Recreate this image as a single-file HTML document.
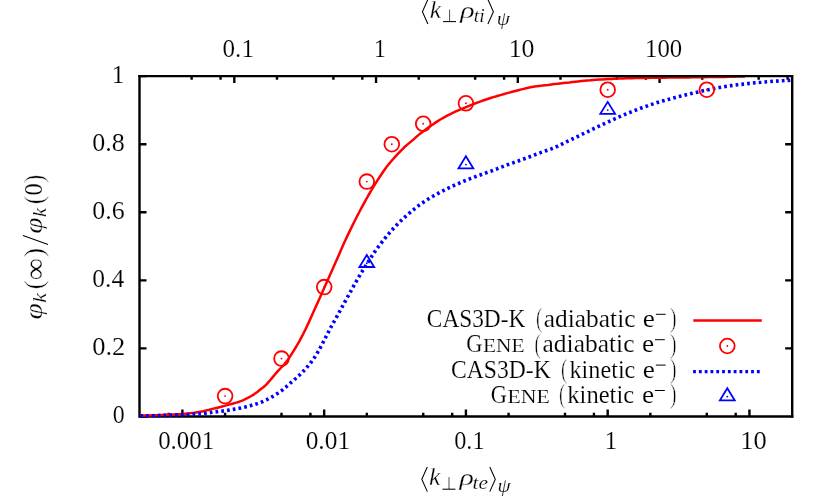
<!DOCTYPE html>
<html><head><meta charset="utf-8"><title>plot</title>
<style>html,body{margin:0;padding:0;background:#fff}svg{display:block;will-change:transform}text{font-family:"Liberation Serif",serif;fill:#000;stroke:#fff;stroke-width:0.16px;paint-order:fill stroke}</style>
</head><body>
<svg width="830" height="498" viewBox="0 0 830 498">
<rect width="830" height="498" fill="#fff"/>
<g stroke="#000" stroke-width="2.4" fill="none">
<path d="M168.66 416.50v-3.70M182.40 416.50v-7.00M225.07 416.50v-3.70M281.49 416.50v-3.70M310.42 416.50v-3.70M324.16 416.50v-7.00M366.83 416.50v-3.70M423.25 416.50v-3.70M452.18 416.50v-3.70M465.92 416.50v-7.00M508.59 416.50v-3.70M565.01 416.50v-3.70M593.94 416.50v-3.70M607.68 416.50v-7.00M650.35 416.50v-3.70M706.77 416.50v-3.70M735.70 416.50v-3.70M749.44 416.50v-7.00M139.50 416.50h7.00M139.50 348.42h7.00M139.50 280.34h7.00M139.50 212.26h7.00M139.50 144.18h7.00M139.50 76.10h7.00"/>
<path d="M191.63 76.10v3.70M220.56 76.10v3.70M234.30 76.10v7.00M276.97 76.10v3.70M333.39 76.10v3.70M362.32 76.10v3.70M376.06 76.10v7.00M418.73 76.10v3.70M475.15 76.10v3.70M504.08 76.10v3.70M517.82 76.10v7.00M560.49 76.10v3.70M616.91 76.10v3.70M645.84 76.10v3.70M659.58 76.10v7.00M702.25 76.10v3.70M758.67 76.10v3.70M787.60 76.10v3.70M792.20 348.42h-7.00M792.20 280.34h-7.00M792.20 212.26h-7.00M792.20 144.18h-7.00"/>
<path d="M139.5 74.90V416.5H793.40"/>
</g>
<path d="M140.3 415.7L143.3 415.6L146.3 415.5L149.3 415.4L152.3 415.3L155.3 415.2L158.3 415.1L161.3 414.9L164.3 414.8L167.3 414.7L170.3 414.6L173.3 414.5L176.3 414.3L179.3 414.2L182.3 414.0L185.3 413.7L188.3 413.4L191.3 413.1L194.3 412.7L197.3 412.2L200.3 411.7L203.3 411.2L206.3 410.4L209.3 409.7L212.3 408.9L215.3 408.2L218.3 407.5L221.3 406.7L224.3 405.9L227.3 405.1L230.3 404.3L233.3 403.5L236.3 402.6L239.3 401.7L242.3 400.6L245.3 399.2L248.3 397.7L251.3 396.0L254.3 394.1L257.3 392.0L260.3 389.6L263.3 387.2L266.3 384.6L269.3 381.2L272.3 377.6L275.3 374.0L278.3 370.6L281.3 367.5L284.3 364.3L287.3 360.6L290.3 356.1L293.3 351.4L296.3 346.5L299.3 341.3L302.3 335.7L305.3 329.7L308.3 323.4L311.3 316.8L314.3 310.1L317.3 303.4L320.3 296.8L323.3 290.1L326.3 283.3L329.3 276.5L332.3 269.7L335.3 263.0L338.3 256.3L341.3 249.3L344.3 242.5L347.3 236.1L350.3 229.9L353.3 223.8L356.3 217.8L359.3 212.0L362.3 206.3L365.3 200.9L368.3 195.5L371.3 190.4L374.3 185.4L377.3 180.6L380.3 176.0L383.3 171.5L386.3 167.3L389.3 163.5L392.3 160.0L395.3 156.6L398.3 153.4L401.3 150.3L404.3 147.3L407.3 144.6L410.3 142.1L413.3 139.6L416.3 136.9L419.3 134.4L422.3 132.0L425.3 129.8L428.3 127.6L431.3 125.5L434.3 123.4L437.3 121.4L440.3 119.5L443.3 117.8L446.3 116.2L449.3 114.6L452.3 113.1L455.3 111.7L458.3 110.3L461.3 109.1L464.3 107.8L467.3 106.6L470.3 105.4L473.3 104.2L476.3 103.0L479.3 101.9L482.3 100.8L485.3 99.8L488.3 98.8L491.3 97.8L494.3 96.9L497.3 96.0L500.3 95.1L503.3 94.3L506.3 93.4L509.3 92.6L512.3 91.8L515.3 91.0L518.3 90.2L521.3 89.4L524.3 88.7L527.3 87.9L530.3 87.3L533.3 86.7L536.3 86.3L539.3 85.9L542.3 85.6L545.3 85.2L548.3 84.9L551.3 84.5L554.3 84.1L557.3 83.8L560.3 83.4L563.3 83.0L566.3 82.7L569.3 82.4L572.3 82.0L575.3 81.7L578.3 81.4L581.3 81.1L584.3 80.8L587.3 80.5L590.3 80.3L593.3 80.0L596.3 79.8L599.3 79.6L602.3 79.4L605.3 79.2L608.3 79.0L611.3 78.9L614.3 78.7L617.3 78.6L620.3 78.5L623.3 78.4L626.3 78.3L629.3 78.2L632.3 78.2L635.3 78.1L638.3 78.0L641.3 78.0L644.3 77.9L647.3 77.9L650.3 77.8L653.3 77.8L656.3 77.8L659.3 77.7L662.3 77.7L665.3 77.7L668.3 77.6L671.3 77.6L674.3 77.6L677.3 77.5L680.3 77.5L683.3 77.5L686.3 77.4L689.3 77.4L692.3 77.3L695.3 77.3L698.3 77.3L701.3 77.2L704.3 77.2L707.3 77.1L710.3 77.1L713.3 77.0L716.3 77.0L719.3 77.0L722.3 76.9L725.3 76.9L728.3 76.8L731.3 76.8L734.3 76.7L737.3 76.6L740.3 76.6L743.3 76.5L745.0 76.5" fill="none" stroke="#f00" stroke-width="2.5" stroke-linejoin="round"/>
<path d="M140.3 415.9L143.3 415.9L146.3 415.8L149.3 415.7L152.3 415.7L155.3 415.6L158.3 415.5L161.3 415.5L164.3 415.4L167.3 415.3L170.3 415.2L173.3 415.1L176.3 415.0L179.3 414.9L182.3 414.8L185.3 414.6L188.3 414.5L191.3 414.3L194.3 414.1L197.3 413.9L200.3 413.7L203.3 413.4L206.3 413.1L209.3 412.7L212.3 412.3L215.3 411.9L218.3 411.5L221.3 411.2L224.3 410.8L227.3 410.4L230.3 409.9L233.3 409.4L236.3 408.9L239.3 408.3L242.3 407.7L245.3 407.0L248.3 406.2L251.3 405.4L254.3 404.6L257.3 403.6L260.3 402.6L263.3 401.3L266.3 399.9L269.3 398.3L272.3 396.7L275.3 394.9L278.3 392.9L281.3 390.8L284.3 388.4L287.3 385.8L290.3 383.1L293.3 380.6L296.3 378.0L299.3 375.2L302.3 372.3L305.3 369.2L308.3 365.7L311.3 362.0L314.3 357.8L317.3 353.0L320.3 347.6L323.3 341.9L326.3 336.2L329.3 330.3L332.3 324.7L335.3 319.3L338.3 314.0L341.3 308.4L344.3 302.9L347.3 297.5L350.3 292.1L353.3 286.7L356.3 281.3L359.3 276.1L362.3 271.1L365.3 266.4L368.3 261.8L371.3 256.9L374.3 252.4L377.3 248.2L380.3 244.2L383.3 240.3L386.3 236.6L389.3 233.1L392.3 229.7L395.3 226.3L398.3 223.3L401.3 220.4L404.3 217.6L407.3 214.9L410.3 212.3L413.3 209.8L416.3 207.4L419.3 205.1L422.3 203.0L425.3 200.9L428.3 199.0L431.3 197.2L434.3 195.5L437.3 193.8L440.3 192.2L443.3 190.7L446.3 189.2L449.3 187.7L452.3 186.3L455.3 184.9L458.3 183.6L461.3 182.3L464.3 181.0L467.3 179.8L470.3 178.6L473.3 177.5L476.3 176.4L479.3 175.3L482.3 174.2L485.3 173.1L488.3 172.0L491.3 171.0L494.3 169.8L497.3 168.7L500.3 167.5L503.3 166.4L506.3 165.2L509.3 164.1L512.3 163.1L515.3 162.0L518.3 161.0L521.3 159.9L524.3 158.8L527.3 157.7L530.3 156.5L533.3 155.3L536.3 154.2L539.3 153.1L542.3 152.0L545.3 151.0L548.3 150.0L551.3 148.9L554.3 147.6L557.3 146.3L560.3 144.8L563.3 143.4L566.3 141.9L569.3 140.5L572.3 139.0L575.3 137.6L578.3 136.2L581.3 134.7L584.3 133.2L587.3 131.8L590.3 130.4L593.3 128.9L596.3 127.5L599.3 126.0L602.3 124.6L605.3 123.2L608.3 121.8L611.3 120.4L614.3 119.1L617.3 117.7L620.3 116.4L623.3 115.2L626.3 113.9L629.3 112.7L632.3 111.5L635.3 110.3L638.3 109.2L641.3 108.0L644.3 106.9L647.3 105.9L650.3 104.8L653.3 103.9L656.3 102.9L659.3 102.0L662.3 101.1L665.3 100.3L668.3 99.4L671.3 98.6L674.3 97.8L677.3 97.0L680.3 96.2L683.3 95.5L686.3 94.7L689.3 94.0L692.3 93.3L695.3 92.6L698.3 91.9L701.3 91.2L704.3 90.5L707.3 89.9L710.3 89.3L713.3 88.7L716.3 88.1L719.3 87.5L722.3 87.0L725.3 86.5L728.3 86.1L731.3 85.6L734.3 85.2L737.3 84.8L740.3 84.5L743.3 84.1L746.3 83.8L749.3 83.4L752.3 83.1L755.3 82.8L758.3 82.5L761.3 82.3L764.3 82.0L767.3 81.8L770.3 81.5L773.3 81.3L776.3 81.1L779.3 80.9L782.3 80.7L785.3 80.5L788.3 80.4L791.3 80.2L791.5 80.2" fill="none" stroke="#00f" stroke-width="3.6" stroke-dasharray="2.7 3.1" stroke-linejoin="round"/>
<path d="M138.30 76.1H792.2V417.70" fill="none" stroke="#000" stroke-width="2.4"/>
<circle cx="225.1" cy="396.1" r="7.35" fill="none" stroke="#f00" stroke-width="1.8"/><circle cx="225.1" cy="396.1" r="0.95" fill="#f00"/>
<circle cx="281.5" cy="358.6" r="7.35" fill="none" stroke="#f00" stroke-width="1.8"/><circle cx="281.5" cy="358.6" r="0.95" fill="#f00"/>
<circle cx="324.2" cy="287.1" r="7.35" fill="none" stroke="#f00" stroke-width="1.8"/><circle cx="324.2" cy="287.1" r="0.95" fill="#f00"/>
<circle cx="366.8" cy="181.6" r="7.35" fill="none" stroke="#f00" stroke-width="1.8"/><circle cx="366.8" cy="181.6" r="0.95" fill="#f00"/>
<circle cx="391.8" cy="144.2" r="7.35" fill="none" stroke="#f00" stroke-width="1.8"/><circle cx="391.8" cy="144.2" r="0.95" fill="#f00"/>
<circle cx="423.2" cy="123.8" r="7.35" fill="none" stroke="#f00" stroke-width="1.8"/><circle cx="423.2" cy="123.8" r="0.95" fill="#f00"/>
<circle cx="465.9" cy="103.3" r="7.35" fill="none" stroke="#f00" stroke-width="1.8"/><circle cx="465.9" cy="103.3" r="0.95" fill="#f00"/>
<circle cx="607.7" cy="89.7" r="7.35" fill="none" stroke="#f00" stroke-width="1.8"/><circle cx="607.7" cy="89.7" r="0.95" fill="#f00"/>
<circle cx="706.8" cy="89.7" r="7.35" fill="none" stroke="#f00" stroke-width="1.8"/><circle cx="706.8" cy="89.7" r="0.95" fill="#f00"/>
<path d="M366.8 255.03l-7.4 11.99h14.8z" fill="none" stroke="#00f" stroke-width="1.8" stroke-linejoin="miter"/><circle cx="366.8" cy="263.3" r="0.95" fill="#00f"/>
<path d="M465.9 156.32l-7.4 11.99h14.8z" fill="none" stroke="#00f" stroke-width="1.8" stroke-linejoin="miter"/><circle cx="465.9" cy="164.6" r="0.95" fill="#00f"/>
<path d="M607.7 101.85l-7.4 11.99h14.8z" fill="none" stroke="#00f" stroke-width="1.8" stroke-linejoin="miter"/><circle cx="607.7" cy="110.1" r="0.95" fill="#00f"/>
<path d="M693.3 320.5H761.8" stroke="#f00" stroke-width="2.7" fill="none"/>
<circle cx="727.3" cy="346.0" r="7.35" fill="none" stroke="#f00" stroke-width="1.8"/><circle cx="727.3" cy="346.0" r="0.95" fill="#f00"/>
<path d="M693.1 371.6H760" stroke="#00f" stroke-width="3.4" stroke-dasharray="2.8 3.0" fill="none"/>
<path d="M727.3 388.31l-7.4 11.99h14.8z" fill="none" stroke="#00f" stroke-width="1.8" stroke-linejoin="miter"/><circle cx="727.3" cy="396.6" r="0.95" fill="#00f"/>
<text transform="translate(158.19 448.60) scale(0.983 1)" font-size="25.3">0.001</text>
<text transform="translate(305.67 448.60) scale(1.003 1)" font-size="25.3">0.01</text>
<text transform="translate(454.21 448.60) scale(0.961 1)" font-size="25.3">0.1</text>
<text transform="translate(604.82 448.60) scale(0.974 1)" font-size="25.3">1</text>
<text transform="translate(740.15 448.60) scale(1.048 1)" font-size="25.3">10</text>
<text transform="translate(222.58 57.20) scale(0.992 1)" font-size="25.3">0.1</text>
<text transform="translate(374.12 57.20) scale(0.929 1)" font-size="25.3">1</text>
<text transform="translate(508.71 57.20) scale(1.021 1)" font-size="25.3">10</text>
<text transform="translate(645.00 57.20) scale(0.980 1)" font-size="25.3">100</text>
<text transform="translate(112.73 423.00) scale(0.944 1)" font-size="25.3">0</text>
<text transform="translate(92.24 354.92) scale(1.046 1)" font-size="25.3">0.2</text>
<text transform="translate(92.27 286.84) scale(1.010 1)" font-size="25.3">0.4</text>
<text transform="translate(92.26 218.76) scale(1.023 1)" font-size="25.3">0.6</text>
<text transform="translate(92.25 150.68) scale(1.028 1)" font-size="25.3">0.8</text>
<text transform="translate(111.67 82.60) scale(0.997 1)" font-size="25.3">1</text>
<text transform="translate(426.83 326.70) scale(0.941 1)" font-size="24.8">CAS3D-K</text>
<text transform="translate(535.92 327.10) scale(0.710 1)" font-size="26.5" style="stroke-width:0.55px">(</text>
<text transform="translate(543.77 326.70) scale(1.025 1)" font-size="24.8">adiabatic</text>
<text transform="translate(642.86 326.70) scale(1.101 1)" font-size="24.8">e</text>
<path d="M655.9 314.3h9.8" stroke="#000" stroke-width="1.0" fill="none"/>
<text transform="translate(670.09 327.10) scale(0.739 1)" font-size="26.5" style="stroke-width:0.55px">)</text>
<text transform="translate(466.27 352.10) scale(0.904 1)" font-size="24.8">G</text>
<text transform="translate(482.93 352.10) scale(1.173 1)" font-size="18.2">ENE</text>
<text transform="translate(534.42 352.50) scale(0.710 1)" font-size="26.5" style="stroke-width:0.55px">(</text>
<text transform="translate(542.57 352.10) scale(1.028 1)" font-size="24.8">adiabatic</text>
<text transform="translate(641.96 352.10) scale(1.101 1)" font-size="24.8">e</text>
<path d="M655.0 339.7h9.8" stroke="#000" stroke-width="1.0" fill="none"/>
<text transform="translate(670.09 352.50) scale(0.739 1)" font-size="26.5" style="stroke-width:0.55px">)</text>
<text transform="translate(451.12 377.50) scale(0.951 1)" font-size="24.8">CAS3D-K</text>
<text transform="translate(561.02 377.90) scale(0.710 1)" font-size="26.5" style="stroke-width:0.55px">(</text>
<text transform="translate(569.50 377.50) scale(0.976 1)" font-size="24.8">kinetic</text>
<text transform="translate(642.86 377.50) scale(1.101 1)" font-size="24.8">e</text>
<path d="M655.9 365.1h9.8" stroke="#000" stroke-width="1.0" fill="none"/>
<text transform="translate(670.09 377.90) scale(0.739 1)" font-size="26.5" style="stroke-width:0.55px">)</text>
<text transform="translate(490.87 402.90) scale(0.904 1)" font-size="24.8">G</text>
<text transform="translate(507.52 402.90) scale(1.193 1)" font-size="18.2">ENE</text>
<text transform="translate(558.92 403.30) scale(0.710 1)" font-size="26.5" style="stroke-width:0.55px">(</text>
<text transform="translate(567.29 402.90) scale(0.992 1)" font-size="24.8">kinetic</text>
<text transform="translate(641.96 402.90) scale(1.101 1)" font-size="24.8">e</text>
<path d="M655.0 390.5h9.8" stroke="#000" stroke-width="1.0" fill="none"/>
<text transform="translate(670.09 403.30) scale(0.739 1)" font-size="26.5" style="stroke-width:0.55px">)</text>
<g transform="translate(421.30 485.30)">
<path d="M6.0 -18.3L0.5 -6.0L6.0 6.3" fill="none" stroke="#000" stroke-width="1.05"/>
<text transform="translate(7.80 0.00) scale(1.056 1)" font-size="24.4" font-style="italic" style="stroke-width:0.26px">k</text>
<path d="M21.2 3.9H34.1" stroke="#000" stroke-width="1.05" fill="none"/><path d="M27.7 3.9V-8.1" stroke="#000" stroke-width="0.7" fill="none"/>
<text transform="translate(38.28 0.00) scale(1.248 1)" font-size="24" font-style="italic" style="stroke-width:0.26px">ρ</text>
<text transform="translate(51.30 4.00) scale(1.154 1)" font-size="18.5" font-style="italic" style="stroke-width:0.2px">te</text>
<path d="M68.5 -18.3l5.5 12.3l-5.5 12.3" fill="none" stroke="#000" stroke-width="1.05"/>
<text transform="translate(76.19 6.80) scale(1.135 1)" font-size="18.6" font-style="italic" style="stroke-width:0.2px">ψ</text>
</g>
<g transform="translate(421.90 17.70)">
<path d="M6.0 -18.3L0.5 -6.0L6.0 6.3" fill="none" stroke="#000" stroke-width="1.05"/>
<text transform="translate(7.80 0.00) scale(1.056 1)" font-size="24.4" font-style="italic" style="stroke-width:0.26px">k</text>
<path d="M21.2 3.9H34.1" stroke="#000" stroke-width="1.05" fill="none"/><path d="M27.7 3.9V-8.1" stroke="#000" stroke-width="0.7" fill="none"/>
<text transform="translate(38.28 0.00) scale(1.248 1)" font-size="24" font-style="italic" style="stroke-width:0.26px">ρ</text>
<text transform="translate(51.88 4.00) scale(1.060 1)" font-size="18.5" font-style="italic" style="stroke-width:0.2px">ti</text>
<path d="M66.0 -18.3l5.5 12.3l-5.5 12.3" fill="none" stroke="#000" stroke-width="1.05"/>
<text transform="translate(74.79 6.80) scale(1.135 1)" font-size="18.6" font-style="italic" style="stroke-width:0.2px">ψ</text>
</g>
<g transform="translate(42.2 319.0) rotate(-90)">
<text transform="translate(-0.52 0.00) scale(1.172 1)" font-size="25" font-style="italic" style="stroke-width:0.26px">φ</text>
<text transform="translate(16.22 3.80) scale(1.210 1)" font-size="18" font-style="italic" style="stroke-width:0.2px">k</text>
<text transform="translate(29.43 0.30) scale(1.001 1)" font-size="28" style="stroke-width:0.55px">(</text>
<text transform="translate(38.66 2.90) scale(1.032 1)" font-size="30.4" style="stroke-width:0.3px">∞</text>
<text transform="translate(61.82 0.30) scale(1.008 1)" font-size="28" style="stroke-width:0.55px">)</text>
<path d="M74.6 5.8L83.4 -19.2" stroke="#000" stroke-width="1.05" fill="none"/>
<text transform="translate(85.18 0.00) scale(1.180 1)" font-size="25" font-style="italic" style="stroke-width:0.26px">φ</text>
<text transform="translate(101.96 3.80) scale(1.132 1)" font-size="18" font-style="italic" style="stroke-width:0.2px">k</text>
<text transform="translate(114.74 0.30) scale(0.905 1)" font-size="28" style="stroke-width:0.55px">(</text>
<text transform="translate(123.41 0.00) scale(0.955 1)" font-size="25.5">0</text>
<text transform="translate(136.00 0.30) scale(0.910 1)" font-size="28" style="stroke-width:0.55px">)</text>
</g>
</svg></body></html>
